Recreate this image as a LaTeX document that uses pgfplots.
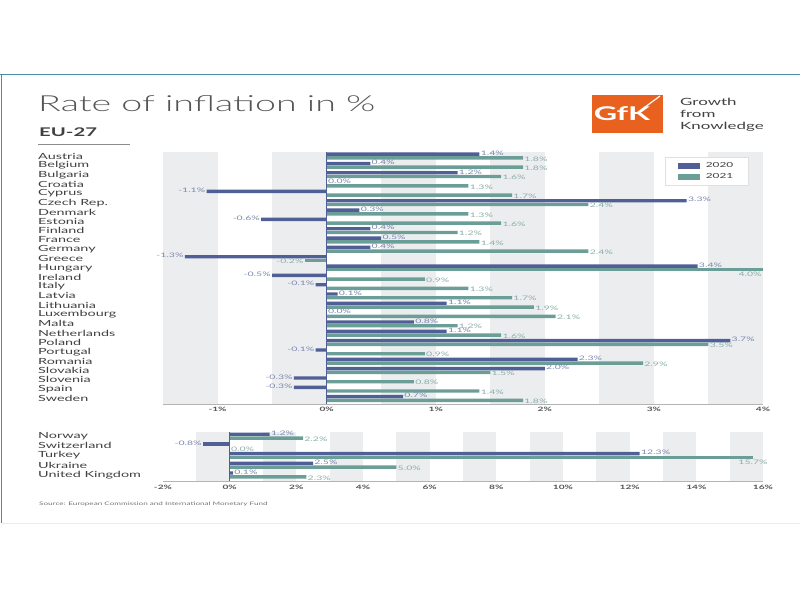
\documentclass[border=0pt]{standalone}
\usepackage{pgfplots}
\usepackage{pgfplotstable}
\pgfplotsset{compat=1.18}
\usepackage{fontspec}
\setmainfont{Lato}[FakeStretch=1.7]
\newfontfamily\lightfont{Lato Light}[FakeStretch=1.7]
\definecolor{c20}{HTML}{505F96}
\definecolor{c21}{HTML}{6B9E97}
\definecolor{l20}{HTML}{7C88B0}
\definecolor{l21}{HTML}{8AAEA8}
\definecolor{band}{HTML}{ECEDEF}
\definecolor{axisgrey}{HTML}{B4B4B4}
\definecolor{framec}{HTML}{4A8FA0}
\definecolor{gfk}{HTML}{E8611F}
\definecolor{txt}{HTML}{404040}
\definecolor{ttl}{HTML}{555555}

% upper chart, 2020 (row index - 0.2)
\pgfplotstableread{
y v
-0.2 1.4
0.8 0.4
1.8 1.2
2.8 0.0
4.8 3.3
5.8 0.3
7.8 0.4
8.8 0.5
9.8 0.4
11.8 3.4
14.8 0.1
15.8 1.1
16.8 0.0
17.8 0.8
18.8 1.1
19.8 3.7
21.8 2.3
22.8 2.0
25.8 0.7
}\upApos
\pgfplotstableread{
y v
3.8 -1.1
6.8 -0.6
10.8 -1.3
12.8 -0.5
13.8 -0.1
20.8 -0.1
23.8 -0.3
24.8 -0.3
}\upAneg
% upper chart, 2021 (row index + 0.2)
\pgfplotstableread{
y v
0.2 1.8
1.2 1.8
2.2 1.6
3.2 1.3
4.2 1.7
5.2 2.4
6.2 1.3
7.2 1.6
8.2 1.2
9.2 1.4
10.2 2.4
13.2 0.9
14.2 1.3
15.2 1.7
16.2 1.9
17.2 2.1
18.2 1.2
19.2 1.6
20.2 3.5
21.2 0.9
22.2 2.9
23.2 1.5
24.2 0.8
25.2 1.4
26.2 1.8
}\upBpos
\pgfplotstableread{
y v
11.2 -0.2
}\upBneg
\pgfplotstableread{
y v
12.2 4.0
}\upBend
% lower chart
\pgfplotstableread{
y v
-0.2 1.2
1.8 12.3
2.8 2.5
3.8 0.1
}\loApos
\pgfplotstableread{
y v
0.8 -0.8
}\loAneg
\pgfplotstableread{
y v
0.2 2.2
1.2 0.0
3.2 5.0
4.2 2.3
}\loBpos
\pgfplotstableread{
y v
2.2 15.7
}\loBend

\pgfplotsset{
  common/.style={
    scale only axis, width=600bp, clip=false, y dir=reverse,
    axis line style={draw=none}, tick style={draw=none},
    xticklabel style={font=\bfseries\fontsize{6}{7}\selectfont, text=txt!90, inner sep=3bp},
    yticklabel style={anchor=west, xshift=-125bp, inner sep=0pt, font=\fontsize{8.5}{9}\selectfont, text=txt},
  },
  barA/.style={xbar, bar width=3.4bp, bar shift=0pt, fill=c20, draw=none, forget plot,
    point meta=explicit symbolic,
    nodes near coords={\pgfplotspointmeta\%},
    nodes near coords style={anchor=#1, font=\fontsize{6.2}{7}\selectfont, text=l20, inner sep=1.2bp, yshift=1bp}},
  barB/.style={xbar, bar width=3.4bp, bar shift=0pt, fill=c21, draw=none, forget plot,
    point meta=explicit symbolic,
    nodes near coords={\pgfplotspointmeta\%},
    nodes near coords style={anchor=#1, font=\fontsize{6.2}{7}\selectfont, text=l21, inner sep=1.2bp, yshift=-1bp}},
}

\begin{document}
\begin{tikzpicture}
\useasboundingbox (0,0) rectangle (800bp,600bp);
% frame
\draw[framec, line width=1bp] (0,525bp) -- (800bp,525bp);
\draw[framec, line width=1.5bp] (1.5bp,525bp) -- (1.5bp,77bp);
\draw[black!8, line width=0.8bp] (1.5bp,77bp) -- (800bp,77bp);
% title
\node[anchor=base west, inner sep=0pt, text=ttl] at (38bp,488bp) {\lightfont\fontsize{22.2}{26}\selectfont Rate of inflation in \%};
\node[anchor=base west, inner sep=0pt, text=txt] at (39bp,463bp) {\bfseries\fontsize{12}{14}\selectfont EU-27};
\draw[black!45, line width=1bp] (38bp,455bp) -- (130bp,455bp);
% logo
\fill[gfk] (592bp,505bp) rectangle (663bp,467bp);
\node[text=white, inner sep=0pt] at (622bp,486bp) {\bfseries\fontsize{19}{20}\selectfont GfK};
\draw[white, line width=1.2bp] (641bp,490bp) -- (660bp,504bp);
\node[anchor=base west, inner sep=0pt, text=txt] at (680bp,494bp) {\fontsize{10}{11}\selectfont Growth};
\node[anchor=base west, inner sep=0pt, text=txt] at (680bp,482bp) {\fontsize{10}{11}\selectfont from};
\node[anchor=base west, inner sep=0pt, text=txt] at (680bp,470bp) {\fontsize{10}{11}\selectfont Knowledge};

% upper chart
\begin{axis}[common,
  at={(163bp,196bp)}, anchor=south west, height=252bp,
  xmin=-1.5, xmax=4, ymin=-0.43, ymax=26.59,
  xtick={-1,0,1,2,3,4}, xticklabels={-1\%,0\%,1\%,2\%,3\%,4\%},
  ytick={0,...,26},
  yticklabels={Austria,Belgium,Bulgaria,Croatia,Cyprus,Czech Rep.,Denmark,Estonia,Finland,France,Germany,Greece,Hungary,Ireland,Italy,Latvia,Lithuania,Luxembourg,Malta,Netherlands,Poland,Portugal,Romania,Slovakia,Slovenia,Spain,Sweden},
  legend style={at={(axis description cs:0.837,0.98)}, anchor=north west, draw=black!12, fill=white,
    font=\fontsize{7}{8}\selectfont, text=txt, inner xsep=13bp, inner ysep=3bp, row sep=0.5bp, column sep=4bp},
  legend cell align=left,
]
\fill[band] (axis cs:-1.5,-0.43) rectangle (axis cs:-1,26.59);
\fill[band] (axis cs:-0.5,-0.43) rectangle (axis cs:0,26.59);
\fill[band] (axis cs:0.5,-0.43) rectangle (axis cs:1,26.59);
\fill[band] (axis cs:1.5,-0.43) rectangle (axis cs:2,26.59);
\fill[band] (axis cs:2.5,-0.43) rectangle (axis cs:3,26.59);
\fill[band] (axis cs:3.5,-0.43) rectangle (axis cs:4,26.59);
\addplot[barA=west] table[x=v, y=y, meta=v] {\upApos};
\addplot[barA=east] table[x=v, y=y, meta=v] {\upAneg};
\addplot[barB=west] table[x=v, y=y, meta=v] {\upBpos};
\addplot[barB=east] table[x=v, y=y, meta=v] {\upBneg};
\addplot[barB=north east] table[x=v, y=y, meta=v] {\upBend};
\addlegendimage{legend image code/.code={\fill[c20] (0bp,-2.4bp) rectangle (21bp,2.4bp);}}
\addlegendentry{2020}
\addlegendimage{legend image code/.code={\fill[c21] (0bp,-2.4bp) rectangle (21bp,2.4bp);}}
\addlegendentry{2021}
\draw[c20, line width=1.5bp] (axis cs:0,-0.43) -- (axis cs:0,26.59);
\draw[axisgrey, line width=1bp] (axis cs:-1.5,26.59) -- (axis cs:4,26.59);
\end{axis}

% lower chart
\begin{axis}[common,
  at={(163bp,118.3bp)}, anchor=south west, height=49.4bp,
  xmin=-2, xmax=16, ymin=-0.4, ymax=4.7,
  xtick={-2,0,...,16}, xticklabels={-2\%,0\%,2\%,4\%,6\%,8\%,10\%,12\%,14\%,16\%},
  ytick={0,...,4},
  yticklabels={Norway,Switzerland,Turkey,Ukraine,United Kingdom},
]
\fill[band] (axis cs:-1,-0.4) rectangle (axis cs:0,4.7);
\fill[band] (axis cs:1,-0.4) rectangle (axis cs:2,4.7);
\fill[band] (axis cs:3,-0.4) rectangle (axis cs:4,4.7);
\fill[band] (axis cs:5,-0.4) rectangle (axis cs:6,4.7);
\fill[band] (axis cs:7,-0.4) rectangle (axis cs:8,4.7);
\fill[band] (axis cs:9,-0.4) rectangle (axis cs:10,4.7);
\fill[band] (axis cs:11,-0.4) rectangle (axis cs:12,4.7);
\fill[band] (axis cs:13,-0.4) rectangle (axis cs:14,4.7);
\fill[band] (axis cs:15,-0.4) rectangle (axis cs:16,4.7);
\addplot[barA=west] table[x=v, y=y, meta=v] {\loApos};
\addplot[barA=east] table[x=v, y=y, meta=v] {\loAneg};
\addplot[barB=west] table[x=v, y=y, meta=v] {\loBpos};
\addplot[barB=north] table[x=v, y=y, meta=v] {\loBend};
\draw[c20, line width=1.5bp] (axis cs:0,-0.4) -- (axis cs:0,4.7);
\draw[axisgrey, line width=1bp] (axis cs:-2,4.7) -- (axis cs:16,4.7);
\end{axis}

\node[anchor=base west, inner sep=0pt, text=black!55] at (39bp,94bp) {\fontsize{4.8}{5}\selectfont Source: European Commission and International Monetary Fund};
\end{tikzpicture}
\end{document}
